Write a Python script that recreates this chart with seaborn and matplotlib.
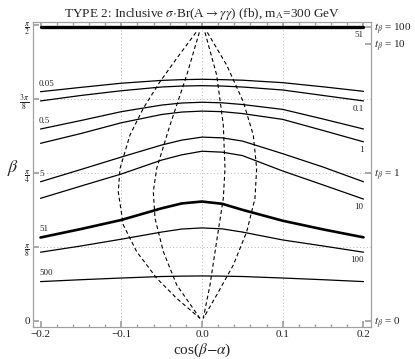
import numpy as np
import pandas as pd
import matplotlib
matplotlib.use("Agg")
import matplotlib.pyplot as plt
import seaborn as sns

# valores: beta (rad) de cada contorno en estos cos(beta-alpha)
cba = [-0.2, -0.15, -0.1, -0.05, -0.025, 0.0, 0.025, 0.05, 0.1, 0.15, 0.2]

c_005 = [1.217, 1.240, 1.262, 1.277, 1.281, 1.283, 1.281, 1.278, 1.265, 1.243, 1.219]
c_01 = [1.168, 1.197, 1.222, 1.242, 1.247, 1.249, 1.247, 1.242, 1.226, 1.197, 1.168]
c_05 = [1.019, 1.064, 1.111, 1.146, 1.157, 1.161, 1.158, 1.149, 1.123, 1.072, 1.019]
c_1 = [0.943, 0.995, 1.052, 1.096, 1.109, 1.114, 1.111, 1.101, 1.070, 1.011, 0.951]
c_5 = [0.739, 0.804, 0.870, 0.934, 0.960, 0.976, 0.972, 0.955, 0.888, 0.817, 0.739]
c_10 = [0.651, 0.716, 0.780, 0.854, 0.882, 0.901, 0.896, 0.878, 0.796, 0.722, 0.647]
c_51 = [0.443, 0.488, 0.536, 0.598, 0.624, 0.634, 0.622, 0.590, 0.532, 0.486, 0.444]
c_100 = [0.365, 0.398, 0.434, 0.472, 0.488, 0.494, 0.489, 0.472, 0.430, 0.398, 0.365]
c_500 = [0.209, 0.219, 0.228, 0.236, 0.238, 0.239, 0.238, 0.236, 0.228, 0.219, 0.209]
c_51_top = [1.560] * 11

contornos = [
    ("0.05", c_005, 0.9, "left"),
    ("0.1", c_01, 0.9, "right"),
    ("0.5", c_05, 0.9, "left"),
    ("1", c_1, 0.9, "right"),
    ("5", c_5, 0.9, "left"),
    ("10", c_10, 0.9, "right"),
    ("51", c_51, 1.9, "left"),
    ("100", c_100, 0.9, "right"),
    ("500", c_500, 0.9, "left"),
    ("51", c_51_top, 2.4, "right"),
]

# curvas discontinuas (x, beta)
dl_out_x = [-0.0074, -0.0313, -0.0520, -0.0727, -0.0892, -0.1015, -0.1037, -0.0975, -0.0809, -0.0561, -0.0313, -0.0025]
dl_out_b = [1.532, 1.394, 1.270, 1.129, 0.987, 0.810, 0.686, 0.510, 0.368, 0.227, 0.120, 0.014]
dl_in_x = [-0.0033, -0.0189, -0.0396, -0.0561, -0.0603, -0.0582, -0.0479, -0.0313, -0.0025]
dl_in_b = [1.532, 1.305, 1.040, 0.810, 0.686, 0.545, 0.368, 0.191, 0.014]
dr_in_x = [0.0037, 0.0182, 0.0264, 0.0285, 0.0264, 0.0182, 0.0099, 0.0016]
dr_in_b = [1.532, 1.305, 1.040, 0.810, 0.651, 0.425, 0.191, 0.014]
dr_out_x = [0.0066, 0.0306, 0.0511, 0.0635, 0.0677, 0.0656, 0.0554, 0.0388, 0.0182, 0.0016]
dr_out_b = [1.532, 1.358, 1.164, 0.987, 0.810, 0.651, 0.474, 0.297, 0.138, 0.014]

xticks = [-0.2, -0.1, 0.0, 0.1, 0.2]
xticklabels = ["\u22120.2", "\u22120.1", "0.0", "0.1", "0.2"]
yticks = [0, np.pi / 8, np.pi / 4, 3 * np.pi / 8, np.pi / 2]
yticklabels = ["0", r"$\frac{\pi}{8}$", r"$\frac{\pi}{4}$", r"$\frac{3\,\pi}{8}$", r"$\frac{\pi}{2}$"]
tb_vals = [0, 1, 10, 100]
tb_labels = [r"$t_\beta$ = 0", r"$t_\beta$ = 1", r"$t_\beta$ = 10", r"$t_\beta$ = 100"]

sns.set_theme(style="ticks")
plt.rcParams['font.family'] = ['Liberation Serif', 'DejaVu Serif']
plt.rcParams['mathtext.fontset'] = 'stix'

fig = plt.figure(figsize=(4.15, 3.59), dpi=100)
ax = fig.add_axes([33 / 415, 1 - 327 / 359, 338 / 415, 305 / 359])

gris = '#a0a0a0'
for g in [-0.1, 0.0, 0.1]:
    ax.axvline(g, color='#b8b8b8', ls=(0, (1, 2.5)), lw=0.7, zorder=0)
for g in yticks[1:4]:
    ax.axhline(g, color='#b8b8b8', ls=(0, (1, 2.5)), lw=0.7, zorder=0)

for txt, vals, lw, lado in contornos:
    df = pd.DataFrame({'x': cba, 'b': vals})
    sns.lineplot(data=df, x='x', y='b', ax=ax, color='black', lw=lw, sort=False, estimator=None)
    if lado == "left":
        ax.annotate(txt, (cba[0], vals[0]), xytext=(-1, 3), textcoords='offset points',
                    fontsize=6.5, ha='left', va='bottom')
    else:
        ax.annotate(txt, (cba[-1], vals[-1]), xytext=(0, -3), textcoords='offset points',
                    fontsize=6.5, ha='right', va='top')

for xs, bs in [(dl_out_x, dl_out_b), (dl_in_x, dl_in_b), (dr_in_x, dr_in_b), (dr_out_x, dr_out_b)]:
    df = pd.DataFrame({'x': xs, 'b': bs})
    sns.lineplot(data=df, x='x', y='b', ax=ax, color='black', lw=0.8, sort=False, estimator=None,
                 linestyle=(0, (3.5, 2.5)))

ax.set_xlim(-0.2093, 0.2093)
ax.set_ylim(-0.032, 1.587)
ax.set_xticks(xticks)
ax.set_xticklabels(xticklabels)
ax.set_xticks(np.arange(-0.2, 0.201, 0.02), minor=True)
ax.set_yticks(yticks)
ax.set_yticklabels(yticklabels, fontsize=8)
ax.tick_params(axis='x', which='major', direction='in', length=4, color=gris, labelsize=8, pad=2,
               top=True, labelcolor='#222222')
ax.tick_params(axis='x', which='minor', direction='in', length=2, color=gris, top=True)
ax.tick_params(axis='y', which='major', direction='in', length=4, color=gris, pad=2, labelcolor='#222222')
ax.set_xlabel(r"cos($\beta$$-$$\alpha$)", fontsize=11, labelpad=2)
ax.set_ylabel(r"$\beta$", fontsize=13, rotation=0)
ax.yaxis.set_label_coords(-0.058, 0.49)

ax2 = ax.twinx()
ax2.set_ylim(ax.get_ylim())
ax2.set_yticks(np.arctan(tb_vals))
ax2.set_yticklabels(tb_labels, fontsize=8)
ax2.tick_params(axis='y', direction='in', length=4, color=gris, pad=2, labelcolor='#222222')

for a in (ax, ax2):
    for s in a.spines.values():
        s.set_color(gris)
        s.set_linewidth(0.8)

ax.set_title(r"TYPE 2: Inclusive $\sigma$$\cdot$Br(A$\rightarrow$$\gamma\gamma$) (fb), m$_\mathrm{A}$=300 GeV",
             fontsize=9.5, pad=3)

fig.savefig("out.png", dpi=100)
